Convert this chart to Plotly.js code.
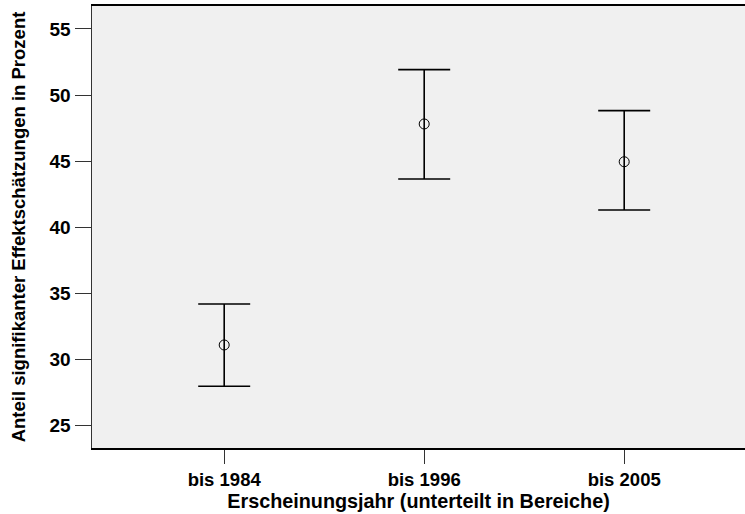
<!DOCTYPE html>
<html>
<head>
<meta charset="utf-8">
<script src="https://cdn.plot.ly/plotly-3.0.1.min.js"></script>
<style>html,body{margin:0;padding:0;background:#fff;}#chart{width:745px;height:514px;}</style>
</head>
<body>
<div id="chart"></div>
<script>
// Data
const categories = ["bis 1984", "bis 1996", "bis 2005"];
const means  = [31.08, 47.81, 44.95];
const lowers = [27.95, 43.64, 41.30];
const uppers = [34.18, 51.92, 48.82];
const yTicks = [25, 30, 35, 40, 45, 50, 55];

const plusErr  = uppers.map((u, i) => u - means[i]);
const minusErr = means.map((m, i) => m - lowers[i]);

const font = "'Liberation Sans', Arial, sans-serif";

const trace = {
  type: 'scatter',
  mode: 'markers',
  x: categories,
  y: means,
  marker: {symbol: 'circle-open', size: 10, color: '#000', line: {width: 1, color: '#000'}},
  error_y: {
    type: 'data', symmetric: false,
    array: plusErr, arrayminus: minusErr,
    color: '#000', thickness: 1.6, width: 26
  },
  hoverinfo: 'none'
};

const layout = {
  width: 745, height: 514,
  margin: {l: 92, r: 0, t: 6, b: 66},
  paper_bgcolor: '#ffffff',
  plot_bgcolor: '#f0f0f0',
  showlegend: false,
  font: {family: font, color: '#000'},
  xaxis: {
    type: 'category',
    range: [-0.661, 2.604],
    showgrid: false, zeroline: false,
    showline: true, linecolor: '#000', linewidth: 2, mirror: true,
    ticks: 'outside', ticklen: 14, tickwidth: 1, tickcolor: '#333',
    tickfont: {family: font, size: 18.5, color: '#000', weight: 'bold'},
    title: {text: 'Erscheinungsjahr (unterteilt in Bereiche)', standoff: 0,
            font: {family: font, size: 19.8, color: '#000', weight: 'bold'}}
  },
  yaxis: {
    range: [23.28, 56.74],
    tickvals: yTicks, ticktext: yTicks.map(String),
    showgrid: false, zeroline: false,
    showline: true, linecolor: '#333', linewidth: 1.5, mirror: true,
    ticks: 'outside', ticklen: 16, tickwidth: 1, tickcolor: '#333',
    tickfont: {family: font, size: 19, color: '#000', weight: 'bold'},
    title: {text: 'Anteil signifikanter Effektschätzungen in Prozent', standoff: 19,
            font: {family: font, size: 18.5, color: '#000', weight: 'bold'}}
  }
};

Plotly.newPlot('chart', [trace], layout, {displayModeBar: false, staticPlot: true});
</script>
</body>
</html>
